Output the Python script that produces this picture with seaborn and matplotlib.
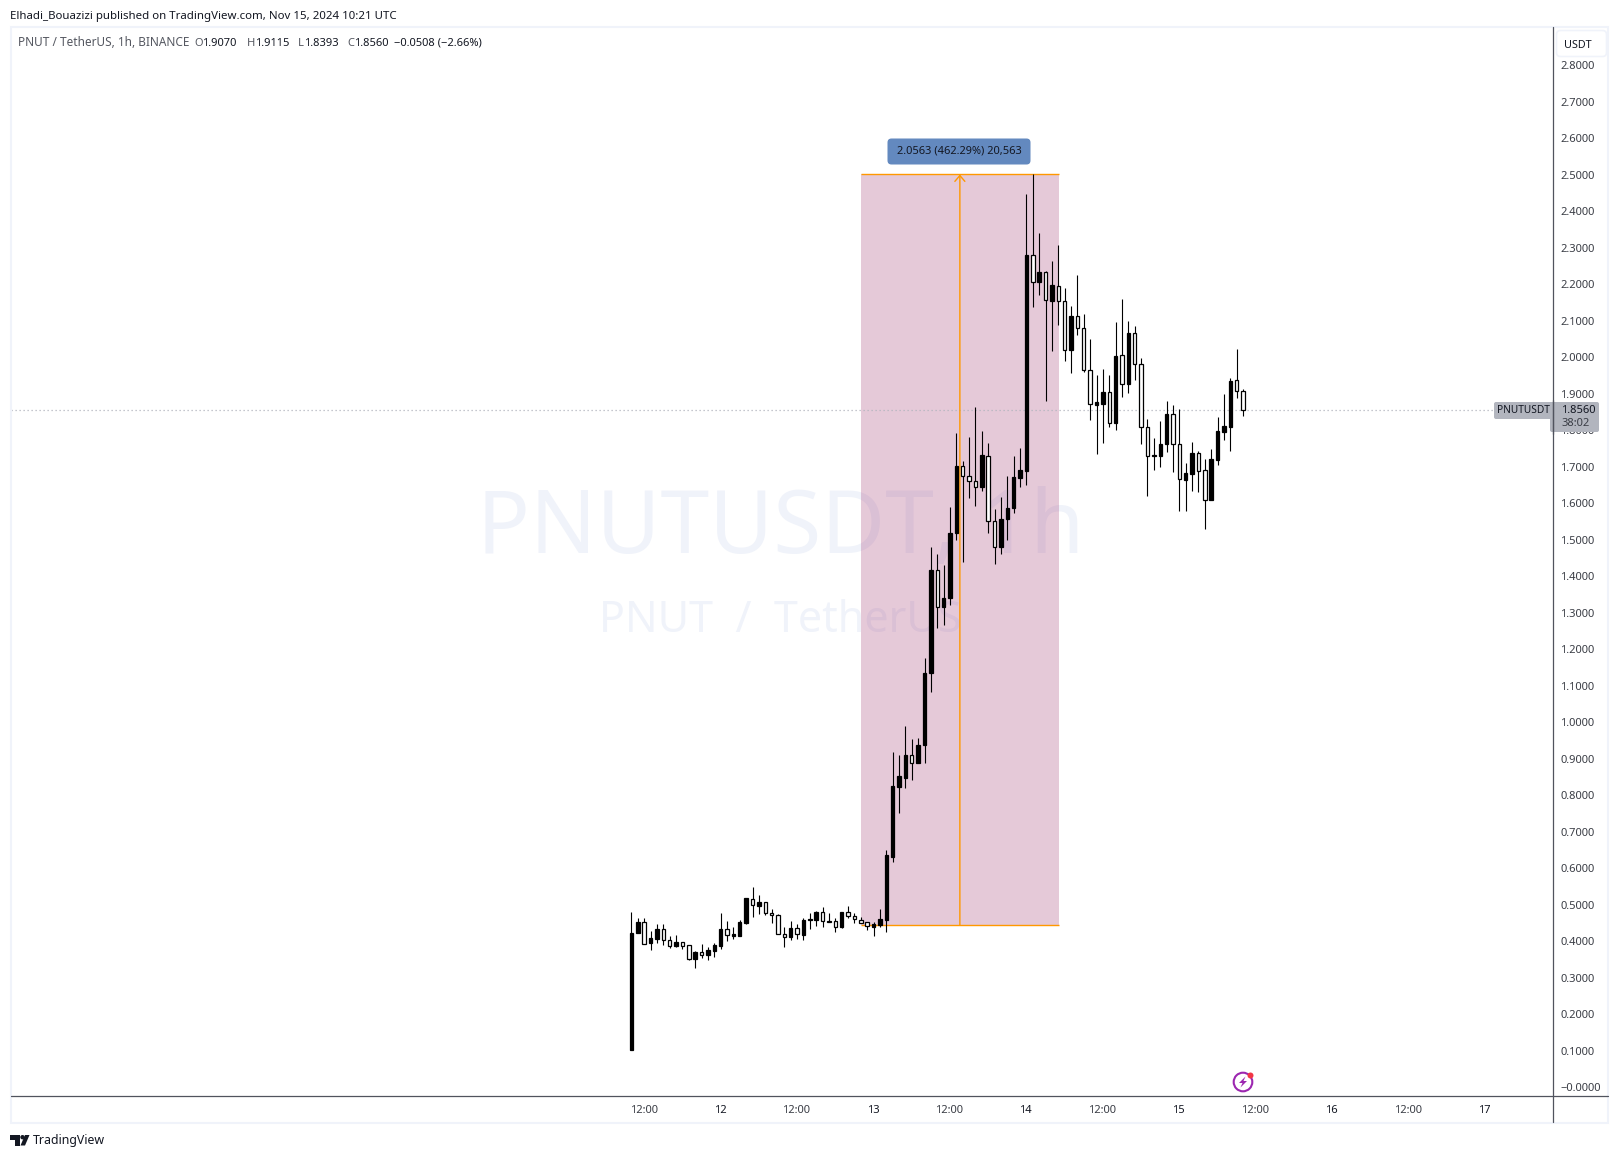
import numpy as np
import pandas as pd
import matplotlib
matplotlib.use("Agg")
import matplotlib.pyplot as plt
from matplotlib.patches import Rectangle, FancyBboxPatch, Circle, Polygon
from matplotlib.transforms import Affine2D
import seaborn as sns

opens = [.1014,.4228,.4511,.3954,.4064,.4320,.4018,.3863,.3963,.3881,.3516,.3689,.3626,.3735,.3872,.4320,.4146,.4146,.4502,.5160,.4968,.5059,.4776,.4703,.4183,.4119,.4347,.4174,.4584,.4584,.4785,.4530,.4539,.4393,.4785,.4676,.4566,.4511,.4393,.4448,
         .4584,.6304,.8232,.8477,.9082,.8865,.9356,1.1331,1.4166,1.3146,1.3391,1.5177,1.7020,1.6746,1.6614,1.6434,1.7294,1.5518,1.4790,1.5565,1.5858,1.6689,
         1.6879,2.2786,2.2065,2.2320,2.1544,2.1937,2.1526,2.0202,2.1115,2.0786,1.9654,1.8696,1.8723,1.9033,1.8203,2.0047,1.9271,2.0649,1.9800,1.8093,1.7289,1.7299,1.7627,1.8431,1.7627,1.6641,1.6806,1.7362,1.6897,1.6075,1.7189,1.7956,1.8093,1.9362,1.9070]
highs = [.4795,.4621,.4621,.4274,.4466,.4466,.4128,.4164,.3963,.3881,.3717,.3918,.3826,.3945,.4767,.4548,.4374,.4566,.5169,.5479,.5260,.5059,.4868,.4731,.4374,.4548,.4457,.4621,.4758,.4813,.4922,.4758,.4621,.4785,.4959,.4758,.4648,.4511,.4511,.4868,
         .6493,.9186,.9092,.9885,.9545,.9564,1.1757,1.4800,1.4592,1.4289,1.5896,1.7927,1.7162,1.7795,1.8617,1.7984,1.7634,1.5839,1.6170,1.6746,1.7294,1.7493,
         2.4466,2.5000,2.3388,2.2357,2.2631,2.3069,2.1882,2.1398,2.2238,2.1170,2.0485,1.9508,1.9663,1.9508,2.0951,2.1581,2.0978,2.0850,1.9965,1.8294,1.7783,1.8248,1.8796,1.8677,1.8568,1.7088,1.7664,1.7417,1.7207,1.7472,1.8358,1.8979,1.9417,2.0211,1.9115]
lows = [.1014,.4228,.3927,.3763,.3954,.3900,.3817,.3836,.3790,.3489,.3269,.3543,.3489,.3571,.3790,.4009,.4064,.4146,.4475,.4667,.4749,.4721,.4502,.4183,.3845,.4037,.4064,.4037,.4338,.4420,.4393,.4530,.4256,.4365,.4639,.4502,.4502,.4311,.4146,.4393,
        .4250,.6153,.7495,.8203,.8402,.8865,.8865,1.0812,1.2569,1.2654,1.3202,1.4988,1.4384,1.6141,1.5914,1.6330,1.5177,1.4327,1.4601,1.4988,1.5726,1.6434,
        1.6495,2.1380,2.1699,1.8805,2.0175,2.0878,1.9892,1.9572,2.0604,1.9599,1.8276,1.7344,1.7646,1.8093,1.7992,1.8915,1.9024,1.9371,1.7618,1.6194,1.6906,1.6997,1.7390,1.6843,1.5792,1.5792,1.6340,1.6313,1.5299,1.6075,1.7052,1.7728,1.7435,1.8887,1.8393]
closes = [.4219,.4511,.3927,.4073,.4320,.4037,.3872,.3963,.3872,.3516,.3689,.3626,.3744,.3881,.4320,.4174,.4183,.4511,.5169,.4977,.5059,.4776,.4703,.4183,.4119,.4347,.4183,.4566,.4603,.4785,.4539,.4548,.4393,.4785,.4676,.4594,.4502,.4402,.4457,.4594,
          .6351,.8241,.8515,.9092,.8874,.9366,1.1341,1.4166,1.3155,1.3401,1.5187,1.7020,1.6746,1.6614,1.6444,1.7323,1.5518,1.4790,1.5565,1.5867,1.6699,1.6916,
          2.2795,2.2065,2.2329,2.1553,2.1964,2.1526,2.0202,2.1115,2.0786,1.9654,1.8705,1.8759,1.9033,1.8203,2.0019,1.9271,2.0649,1.9800,1.8093,1.7280,1.7317,1.7609,1.8431,1.7627,1.6650,1.6815,1.7362,1.6888,1.6075,1.7198,1.7965,1.8111,1.9335,1.9061,1.8560]

price_ticks = [round(0.1 * k, 1) for k in range(0, 29)]
time_ticks = [2, 14, 26, 38, 50, 62, 74, 86, 98, 110, 122, 134]
time_labels = ["12:00", "12", "12:00", "13", "12:00", "14", "12:00", "15", "12:00", "16", "12:00", "17"]
range_low, range_high = 0.4437, 2.5000
range_start, range_end = 36, 67.1
last_price = 1.8560

sns.set_theme(style="white")
FONT = ["Noto Sans", "DejaVu Sans"]
plt.rcParams["font.family"] = FONT

W, H = 1620, 1158
fig = plt.figure(figsize=(W / 100, H / 100), dpi=100, facecolor="white")
ax = fig.add_axes([11 / W, 1 - 1095 / H, 1541 / W, 1068 / H], facecolor="white")

n = len(opens)
hours = np.arange(n)
candles = pd.DataFrame({"hour": hours, "open": opens, "high": highs, "low": lows, "close": closes})
wicks = candles.melt(id_vars="hour", value_vars=["high", "low"], value_name="price")
sns.lineplot(data=wicks, x="hour", y="price", units="hour", estimator=None, sort=False,
             color="black", lw=0.8, zorder=4, ax=ax, legend=False, solid_capstyle="butt")

bottoms = candles[["open", "close"]].min(axis=1)
heights = (candles["open"] - candles["close"]).abs()
faces = np.where(candles["close"] >= candles["open"], "black", "white")
ax.bar(hours, heights, bottom=bottoms, width=0.54, color=faces, edgecolor="black", linewidth=0.9, zorder=5)

ax.set_xlim(-97.4, 144.5)
ax.set_ylim(-0.0219, 2.904)
ax.set_xlabel("")
ax.set_ylabel("")
for s in ax.spines.values():
    s.set_visible(False)
ax.yaxis.tick_right()
ax.set_yticks(price_ticks)
ax.set_yticklabels(["\u22120.0000"] + [f"{v:.4f}" for v in price_ticks[1:]])
ax.set_xticks(time_ticks)
ax.set_xticklabels(time_labels)
ax.tick_params(axis="y", length=0, pad=5.9, labelsize=8, labelcolor="#3a3d45")
ax.tick_params(axis="x", length=0, pad=7.2, labelsize=8, labelcolor="#3a3d45")
for lab in ax.get_yticklabels():
    lab.set_transform(lab.get_transform() + Affine2D().translate(0, -0.4))
for lab in ax.get_xticklabels():
    lab.set_transform(lab.get_transform() + Affine2D().translate(-0.7, 0))
    if ":" not in lab.get_text():
        lab.set_color("#131722")
        lab.set_fontweight("bold")

px = Affine2D().scale(1, -1).translate(0, H)
ax.text(781, 530, "PNUTUSDT, 1h", transform=px, ha="center", va="center", fontsize=63, color="#f0f3fa", zorder=0.5)
ax.text(780, 621, "PNUT  /  TetherUS", transform=px, ha="center", va="center", fontsize=31, color="#f0f3fa", zorder=0.5)

ax.add_patch(Rectangle((range_start, range_low), range_end - range_start, range_high - range_low,
                       facecolor=(155 / 255, 40 / 255, 103 / 255, 0.25), edgecolor="none", zorder=1))
ax.hlines([range_low, range_high], range_start, range_end, color="#ff9800", lw=1.0, zorder=2)
ax.annotate("", xy=((range_start + range_end) / 2, range_high), xytext=((range_start + range_end) / 2, range_low),
            arrowprops=dict(arrowstyle="->,head_length=0.35,head_width=0.3", color="#ff9800", lw=1.0,
                            shrinkA=0, shrinkB=0), zorder=2)
ax.axhline(last_price, color="#b2b5be", lw=0.9, ls=(0, (1, 2.2)), zorder=1.5)

ov = fig.add_axes([0, 0, 1, 1], facecolor="none")
ov.set_xlim(0, W)
ov.set_ylim(H, 0)
ov.axis("off")

ov.add_patch(Rectangle((10.5, 27), 1597.5, 1096, facecolor="none", edgecolor="#f0f3fa", lw=1.5))
ov.plot([1552.5, 1552.5], [27, 1122], color="#50535e", lw=0.9)
ov.plot([11, 1608], [1095.5, 1095.5], color="#50535e", lw=0.9)

ov.text(10, 16, "Elhadi_Bouazizi published on TradingView.com, Nov 15, 2024 10:21 UTC",
        fontsize=8.25, color="#131722", va="center", ha="left")
gray, dark = "#555861", "#131722"
ov.text(18, 43, "PNUT / TetherUS, 1h, BINANCE", fontsize=8.5, color=gray, va="center", ha="left")
legend_items = [(194, "O", gray), (202, "1.9070", dark),
                (247, "H", gray), (255, "1.9115", dark), (298, "L", gray), (304, "1.8393", dark),
                (347, "C", gray), (354.5, "1.8560", dark), (393.5, "\u22120.0508 (\u22122.66%)", dark)]
for x, t, c in legend_items:
    ov.text(x, 43, t, fontsize=8, color=c, va="center", ha="left")

# range label
ov.add_patch(FancyBboxPatch((890, 141), 138, 21, boxstyle="round,pad=2.5,rounding_size=4",
                            facecolor="#6389bf", edgecolor="none"))
ov.text(959, 151, "2.0563 (462.29%) 20,563", fontsize=7.95, color="#131722", ha="center", va="center")

# unit button
ov.add_patch(FancyBboxPatch((1558, 32), 47, 23, boxstyle="round,pad=1.5,rounding_size=4",
                            facecolor="white", edgecolor="#f0f3fa", lw=1.2))
ov.text(1578, 45, "USDT", fontsize=7.8, color="#131722", ha="center", va="center")

# last-price labels
ov.add_patch(FancyBboxPatch((1496, 404), 58, 13, boxstyle="round,pad=2,rounding_size=2",
                            facecolor="#b2b5be", edgecolor="none"))
ov.add_patch(FancyBboxPatch((1552, 404), 45, 26, boxstyle="round,pad=2,rounding_size=2",
                            facecolor="#b2b5be", edgecolor="none"))
ov.plot([1552.5, 1552.5], [400, 434], color="#50535e", lw=0.9)
ov.text(1497, 410.5, "PNUTUSDT", fontsize=7.3, color="#131722", ha="left", va="center")
ov.text(1561.5, 410.5, "1.8560", fontsize=8, color="#131722", ha="left", va="center")
ov.text(1561.5, 423.5, "38:02", fontsize=8, color="#3a3d45", ha="left", va="center")

# publication icon
ov.add_patch(Circle((1243, 1082), 9.3, facecolor="white", edgecolor="#9c27b0", lw=1.5))
ov.add_patch(Polygon([[1245.5, 1076.5], [1239, 1083], [1242.5, 1083], [1240.5, 1087.5], [1247, 1081], [1243.5, 1081]],
                     closed=True, facecolor="#9c27b0", edgecolor="none"))
ov.add_patch(Circle((1250.5, 1075.5), 3, facecolor="#f23645", edgecolor="none"))

# logo
ov.add_patch(Polygon([[10, 1135], [20, 1135], [20, 1145.5], [15, 1145.5], [15, 1140], [10, 1140]],
                     closed=True, facecolor="#131722", edgecolor="none"))
ov.add_patch(Circle((22.5, 1137.2), 2.2, facecolor="#131722", edgecolor="none"))
ov.add_patch(Polygon([[25, 1135], [29.5, 1135], [25, 1145.5], [20.5, 1145.5]],
                     closed=True, facecolor="#131722", edgecolor="none"))
ov.text(33, 1140.5, "TradingView", fontsize=8.9, color="#131722", ha="left", va="center")

fig.savefig("out.png", dpi=100, facecolor="white")
